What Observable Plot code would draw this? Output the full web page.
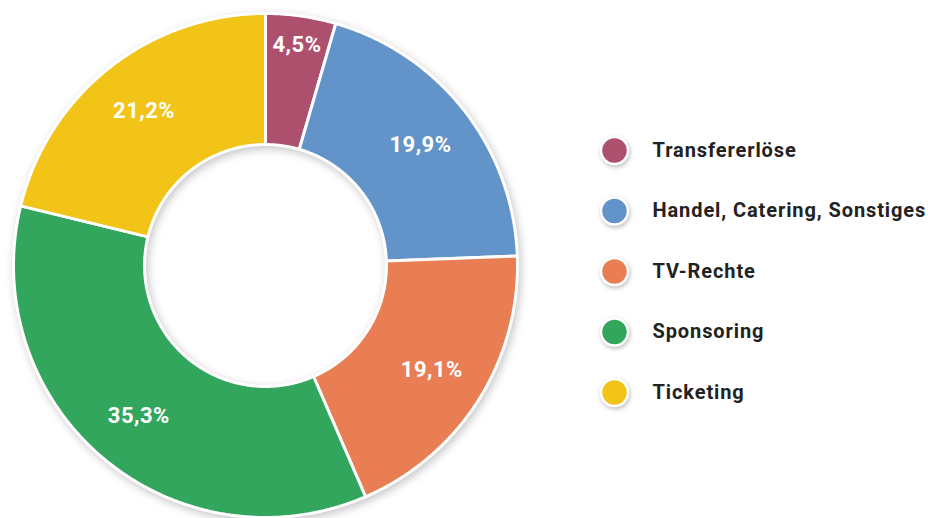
<!DOCTYPE html>
<html>
<head>
<meta charset="utf-8">
<script src="https://cdn.jsdelivr.net/npm/d3@7"></script>
<script src="https://cdn.jsdelivr.net/npm/@observablehq/plot@0.6"></script>
<style>
  html, body { margin: 0; padding: 0; background: #fff; }
  #chart { width: 928px; height: 518px; }
</style>
</head>
<body>
<div id="chart"></div>
<script>
const categories = ["Transfererlöse", "Handel, Catering, Sonstiges", "TV-Rechte", "Sponsoring", "Ticketing"];
const shares = [4.5, 19.9, 19.1, 35.3, 21.2];
const shareLabels = ["4,5%", "19,9%", "19,1%", "35,3%", "21,2%"];
const colors = ["#ad506d", "#6394c9", "#e97e54", "#33a65e", "#f2c418"];

const W = 928, H = 518;
const cx = 265, cy = 265, R = 252;          // pixel layout of the donut
const inner = 0.48, labelR = 0.78;

const arcs = d3.pie().sort(null).value(d => d)(shares);

// slice polygons (outer arc forward, inner arc back), in units of outer radius
const slices = [];
arcs.forEach((a, i) => {
  const n = Math.max(8, Math.ceil((a.endAngle - a.startAngle) / 0.005));
  const pts = [];
  for (let k = 0; k <= n; k++) {
    const t = a.startAngle + (a.endAngle - a.startAngle) * k / n;
    pts.push([Math.sin(t), Math.cos(t)]);
  }
  for (let k = n; k >= 0; k--) {
    const t = a.startAngle + (a.endAngle - a.startAngle) * k / n;
    pts.push([inner * Math.sin(t), inner * Math.cos(t)]);
  }
  pts.push(pts[0]);
  pts.forEach(([x, y]) => slices.push({cat: categories[i], x, y}));
});

const sliceLabels = arcs.map((a, i) => {
  const m = (a.startAngle + a.endAngle) / 2;
  const r = shares[i] < 8 ? 0.885 : labelR;
  return {label: shareLabels[i], x: r * Math.sin(m), y: r * Math.cos(m)};
});

const legend = categories.map((c, i) => ({
  cat: c,
  x: (614 - cx) / R,
  y: (cy - 150 - i * 60.5) / R
}));

const plot = Plot.plot({
  width: W, height: H,
  margin: 0,
  style: {fontFamily: "Roboto, 'DejaVu Sans', sans-serif", background: "transparent", overflow: "visible"},
  x: {domain: [-cx / R, (W - cx) / R], range: [0, W], axis: null},
  y: {domain: [-(H - cy) / R, cy / R], range: [H, 0], axis: null},
  color: {domain: categories, range: colors},
  marks: [
    Plot.line(slices, {x: "x", y: "y", z: "cat", fill: "cat", stroke: "#fff", strokeWidth: 3, strokeLinejoin: "round", curve: "linear"}),
    Plot.text(sliceLabels, {x: "x", y: "y", text: "label", fill: "#fff", fontSize: 22, fontWeight: "bold"}),
    Plot.dot(legend, {x: "x", y: "y", r: 13.5, fill: "cat", stroke: "#fff", strokeWidth: 2.5}),
    Plot.text(legend, {x: "x", y: "y", text: "cat", dx: 38, textAnchor: "start", fill: "#222", fontSize: 20, fontWeight: "bold"})
  ]
});

const svg = d3.select(plot);
svg.selectAll("g[aria-label=line]").style("filter", "drop-shadow(2px 3px 4px rgba(0,0,0,0.22))");
svg.selectAll("g[aria-label=dot]").style("filter", "drop-shadow(1px 2px 2px rgba(0,0,0,0.25))");
svg.selectAll("g[aria-label=text]").filter((d, i) => i === 0).style("letter-spacing", "0.5px");
svg.selectAll("g[aria-label=text]").filter((d, i) => i === 1).style("letter-spacing", "0.9px");
document.getElementById("chart").appendChild(plot);
</script>
</body>
</html>
